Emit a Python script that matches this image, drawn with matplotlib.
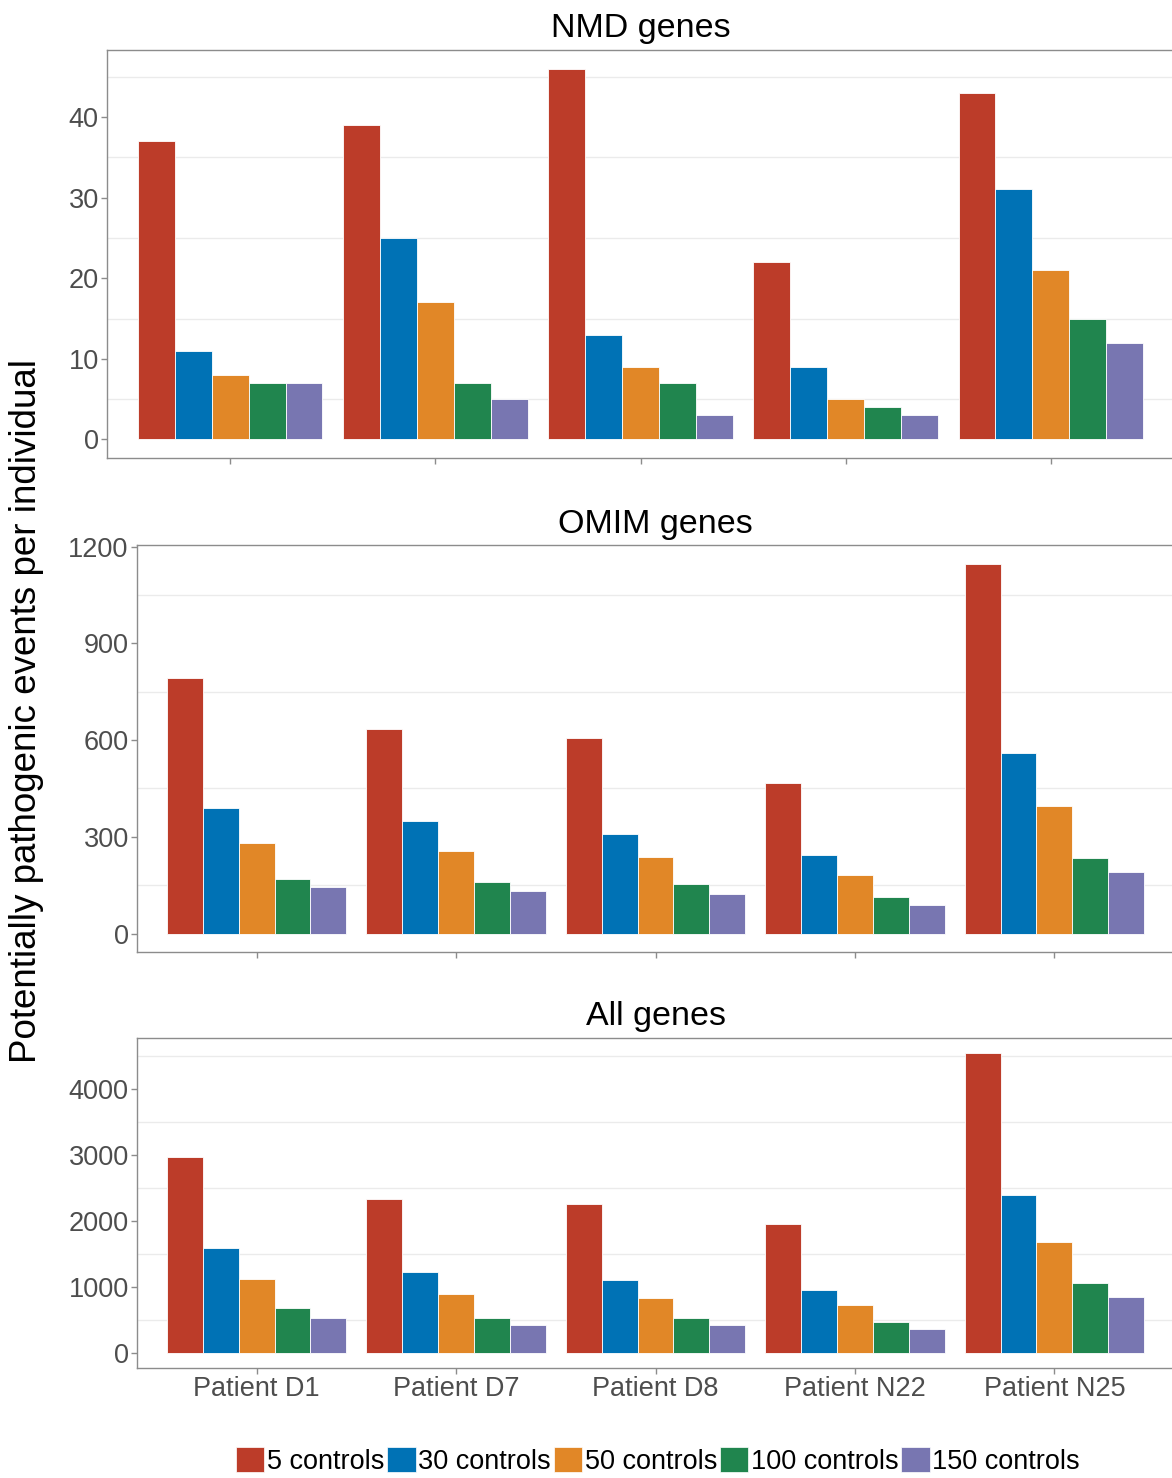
import matplotlib
matplotlib.use("Agg")
import matplotlib.pyplot as plt
import numpy as np
from matplotlib.patches import Patch

plt.rcParams['font.family'] = ['Liberation Sans', 'DejaVu Sans']

patients = ["Patient D1", "Patient D7", "Patient D8", "Patient N22", "Patient N25"]
series = ["5 controls", "30 controls", "50 controls", "100 controls", "150 controls"]
colors = ["#BC3C29", "#0072B5", "#E18727", "#20854E", "#7876B1"]

# rows: control-set size, columns: patient
nmd = [
    [37, 39, 46, 22, 43],
    [11, 25, 13, 9, 31],
    [8, 17, 9, 5, 21],
    [7, 7, 7, 4, 15],
    [7, 5, 3, 3, 12],
]
omim = [
    [792, 634, 606, 467, 1148],
    [390, 350, 309, 244, 560],
    [282, 257, 236, 183, 396],
    [170, 161, 155, 114, 235],
    [145, 133, 124, 87, 192],
]
allg = [
    [2975, 2340, 2260, 1955, 4550],
    [1595, 1227, 1106, 955, 2394],
    [1126, 894, 833, 727, 1682],
    [682, 530, 530, 470, 1061],
    [535, 424, 424, 364, 848],
]

panels = [
    ("NMD genes", nmd, [0, 10, 20, 30, 40], [5, 15, 25, 35, 45]),
    ("OMIM genes", omim, [0, 300, 600, 900, 1200], [150, 450, 750, 1050]),
    ("All genes", allg, [0, 1000, 2000, 3000, 4000], [500, 1500, 2500, 3500, 4500]),
]

W, H = 1172, 1478
fig = plt.figure(figsize=(W / 100, H / 100), dpi=100)

# panel boxes in pixels: left, right, top, bottom
boxes = [(107, 1174, 50, 458), (137, 1174, 545, 952), (137, 1174, 1038, 1368)]

spine_col = "#8C8C8C"
tick_col = "#4D4D4D"
n_groups = len(patients)
n_series = len(series)
group_w = 0.9
bw = group_w / n_series
x = np.arange(1, n_groups + 1)

for i, ((title, data, yticks, minor), (l, r, t, b)) in enumerate(zip(panels, boxes)):
    ax = fig.add_axes([l / W, 1 - b / H, (r - l) / W, (b - t) / H])
    data = np.array(data, dtype=float)
    for k in range(n_series):
        offs = -group_w / 2 + bw * (k + 0.5)
        ax.bar(x + offs, data[k], width=bw, color=colors[k],
               edgecolor="white", linewidth=0.6, zorder=2)
    top = data.max()
    ax.set_ylim(-0.05 * top, 1.05 * top)
    ax.set_xlim(0.4, n_groups + 0.6)
    for m in minor:
        ax.axhline(m, color="#EBEBEB", linewidth=1.0, zorder=0)
    ax.set_yticks(yticks)
    ax.set_yticklabels([str(v) for v in yticks])
    ax.set_xticks(x)
    if i == 2:
        ax.set_xticklabels(patients)
    else:
        ax.set_xticklabels([])
    ax.tick_params(axis="both", colors=spine_col, labelcolor=tick_col,
                   labelsize=19.5, length=4, width=1, pad=2)
    for s in ax.spines.values():
        s.set_color(spine_col)
        s.set_linewidth(1.0)
    ax.set_title(title, fontsize=24.5, color="black", pad=9)

fig.text(27 / W, 1 - 711 / H, "Potentially pathogenic events per individual",
         rotation=90, ha="center", va="center", fontsize=26.5, color="black")

handles = [Patch(facecolor=c, edgecolor="white", linewidth=0.5) for c in colors]
fig.legend(handles, series, loc="center", bbox_to_anchor=(658 / W, 1 - 1461 / H),
           ncol=5, frameon=False, fontsize=19.5, handlelength=1.05, handleheight=1.0,
           handletextpad=0.1, columnspacing=0.1, borderpad=0)

fig.savefig("out.png", dpi=100)
